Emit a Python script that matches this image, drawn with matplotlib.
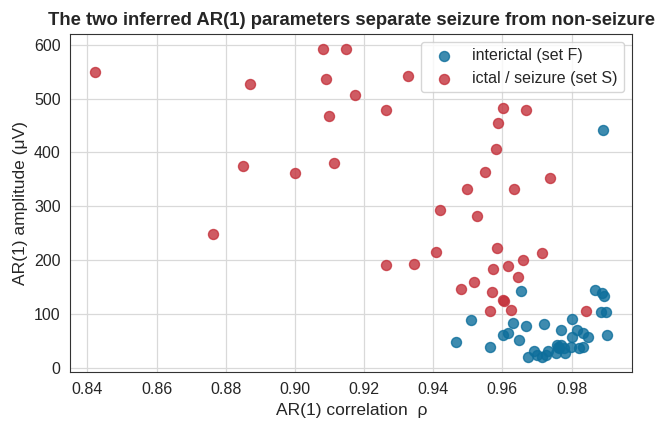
import matplotlib
matplotlib.use("Agg")
import matplotlib.pyplot as plt
import seaborn as sns

# interictal (set F)
f_rho = [0.9890, 0.9654, 0.9867, 0.9889, 0.9893, 0.9886, 0.9900, 0.9901, 0.9509, 0.9466,
         0.9564, 0.9630, 0.9602, 0.9617, 0.9648, 0.9668, 0.9721, 0.9769, 0.9801, 0.9802,
         0.9817, 0.9834, 0.9848, 0.9675, 0.9691, 0.9700, 0.9713, 0.9725, 0.9731, 0.9757,
         0.9764, 0.9754, 0.9760, 0.9768, 0.9777, 0.9782, 0.9797, 0.9821, 0.9833]
f_amp = [442, 143, 145, 140, 134, 104, 104, 62, 90, 48,
         39.5, 85, 62, 66, 52, 78.5, 82, 72, 91.5, 57.5,
         71, 65, 58.6, 20.4, 32, 24.7, 21.5, 24.7, 32, 43,
         37, 29, 40, 44, 38, 29, 40, 37, 40]

# ictal / seizure (set S)
s_rho = [0.8423, 0.8870, 0.9082, 0.9148, 0.9090, 0.9174, 0.9099, 0.8850, 0.9000, 0.9113,
         0.8764, 0.9264, 0.9345, 0.9408, 0.9420, 0.9327, 0.9264, 0.9602, 0.9669, 0.9586,
         0.9582, 0.9550, 0.9737, 0.9498, 0.9634, 0.9527, 0.9585, 0.9715, 0.9660, 0.9617,
         0.9574, 0.9646, 0.9519, 0.9481, 0.9570, 0.9603, 0.9605, 0.9564, 0.9624, 0.9842]
s_amp = [549, 527, 592, 592, 536, 506, 467, 375, 362, 380,
         249, 191, 193, 215, 294, 542, 479, 482, 479, 454,
         407, 364, 353, 332, 332, 282, 223, 213, 200, 189,
         184, 169, 160, 148, 141, 126, 124, 106, 108, 106]

sns.set_style("white")
plt.rcParams['font.family'] = ['Liberation Sans', 'DejaVu Sans']

fig, ax = plt.subplots(figsize=(6.64, 4.30), dpi=100)
ax.grid(True, color="#d9d9d9", linewidth=0.9)
ax.set_axisbelow(True)
ax.scatter(f_rho, f_amp, s=52, color="#0d6e9b", alpha=0.8, label="interictal (set F)")
ax.scatter(s_rho, s_amp, s=52, color="#c4323c", alpha=0.8, label="ictal / seizure (set S)")

ax.set_xlim(0.8351, 0.9975)
ax.set_ylim(-7.4, 620.4)
ax.set_xticks([0.84, 0.86, 0.88, 0.90, 0.92, 0.94, 0.96, 0.98])
ax.set_xlabel("AR(1) correlation  ρ", fontsize=12.5)
ax.set_ylabel("AR(1) amplitude (μV)", fontsize=12.5)
ax.set_title("The two inferred AR(1) parameters separate seizure from non-seizure",
             fontsize=13.3, fontweight="bold")
ax.tick_params(labelsize=11.5)
for sp in ax.spines.values():
    sp.set_color("#333333")
ax.legend(loc="upper right", fontsize=11.5, frameon=True)

fig.subplots_adjust(left=0.106, right=0.952, top=0.922, bottom=0.134)
fig.savefig("out.png", dpi=100)
